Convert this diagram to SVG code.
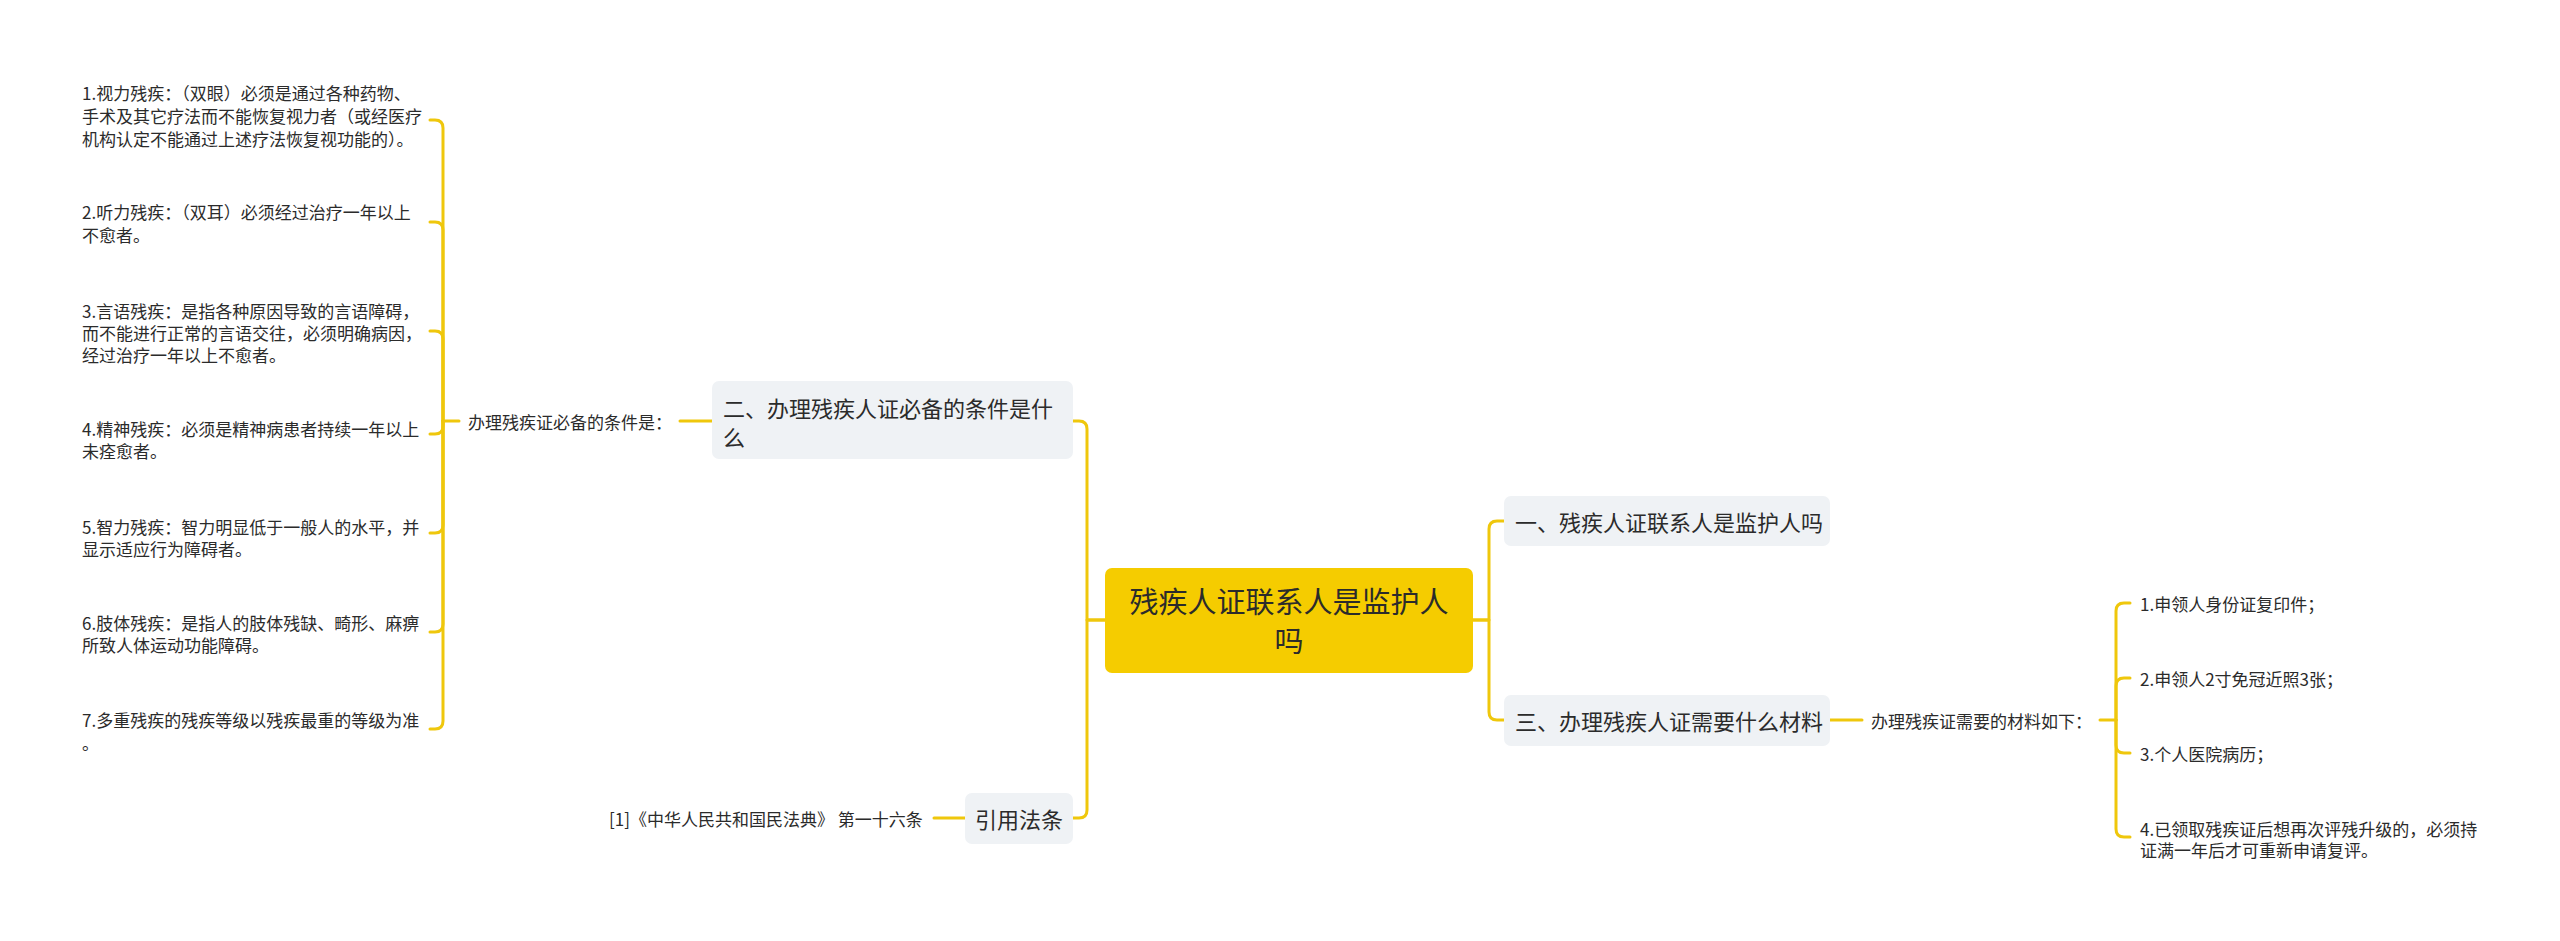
<svg xmlns="http://www.w3.org/2000/svg" width="2560" height="941" viewBox="0 0 2560 941">
<style>
text{font-family:"Noto Sans CJK SC","Noto Sans",sans-serif;fill:#2b2b2b;dominant-baseline:central}
.s{font-size:17px}
.m{font-size:22px}
.r{font-size:29px}
.box{fill:#eff2f5}
.root{fill:#f5cc00}
.c{fill:none;stroke:#efc70c;stroke-width:3;stroke-linecap:round;stroke-linejoin:round}
</style>
<rect width="2560" height="941" fill="#ffffff"/>
<g id="connectors">
<path class="c" d="M1105,620 H1087 V429 Q1087,421 1079,421 H1073"/>
<path class="c" d="M1105,620 H1087 V810 Q1087,818 1079,818 H1073"/>
<path class="c" d="M1473,620 H1489 V529 Q1489,521 1497,521 H1504"/>
<path class="c" d="M1473,620 H1489 V712 Q1489,720 1497,720 H1504"/>
<path class="c" d="M680,421 H712"/>
<path class="c" d="M443,421 H459"/>
<path class="c" d="M443,421 V128 Q443,120 435,120 H430"/>
<path class="c" d="M443,421 V230 Q443,222 435,222 H430"/>
<path class="c" d="M443,421 V339 Q443,331 435,331 H430"/>
<path class="c" d="M443,421 V426 Q443,434 435,434 H430"/>
<path class="c" d="M443,421 V525 Q443,533 435,533 H430"/>
<path class="c" d="M443,421 V624 Q443,632 435,632 H430"/>
<path class="c" d="M443,421 V721 Q443,729 435,729 H430"/>
<path class="c" d="M934,818 H965"/>
<path class="c" d="M1830,720 H1862"/>
<path class="c" d="M2100,720 H2116"/>
<path class="c" d="M2116,720 V611 Q2116,603 2124,603 H2130"/>
<path class="c" d="M2116,720 V686 Q2116,678 2124,678 H2130"/>
<path class="c" d="M2116,720 V745 Q2116,753 2124,753 H2130"/>
<path class="c" d="M2116,720 V829 Q2116,837 2124,837 H2130"/>
</g>
<g id="root">
<rect class="root" x="1105" y="568" width="368" height="105" rx="7"/>
<text class="r" x="1289" y="600" text-anchor="middle">残疾人证联系人是监护人</text>
<text class="r" x="1289" y="639" text-anchor="middle">吗</text>
</g>
<g id="n2">
<rect class="box" x="712" y="381" width="361" height="78" rx="7"/>
<text class="m" x="723" y="407">二、办理残疾人证必备的条件是什</text>
<text class="m" x="723" y="436">么</text>
</g>
<g id="n2a">
<text class="s" x="468" y="421">办理残疾证必备的条件是：</text>
</g>
<g id="i1">
<text class="s" x="82" y="92">1.视力残疾：（双眼）必须是通过各种药物、</text>
<text class="s" x="82" y="115">手术及其它疗法而不能恢复视力者（或经医疗</text>
<text class="s" x="82" y="138">机构认定不能通过上述疗法恢复视功能的）。</text>
</g>
<g id="i2">
<text class="s" x="82" y="211">2.听力残疾：（双耳）必须经过治疗一年以上</text>
<text class="s" x="82" y="234">不愈者。</text>
</g>
<g id="i3">
<text class="s" x="82" y="310">3.言语残疾：是指各种原因导致的言语障碍，</text>
<text class="s" x="82" y="332">而不能进行正常的言语交往，必须明确病因，</text>
<text class="s" x="82" y="354">经过治疗一年以上不愈者。</text>
</g>
<g id="i4">
<text class="s" x="82" y="428">4.精神残疾：必须是精神病患者持续一年以上</text>
<text class="s" x="82" y="450">未痊愈者。</text>
</g>
<g id="i5">
<text class="s" x="82" y="526">5.智力残疾：智力明显低于一般人的水平，并</text>
<text class="s" x="82" y="548">显示适应行为障碍者。</text>
</g>
<g id="i6">
<text class="s" x="82" y="622">6.肢体残疾：是指人的肢体残缺、畸形、麻痹</text>
<text class="s" x="82" y="644">所致人体运动功能障碍。</text>
</g>
<g id="i7">
<text class="s" x="82" y="719">7.多重残疾的残疾等级以残疾最重的等级为准</text>
<text class="s" x="82" y="742">。</text>
</g>
<g id="law">
<rect class="box" x="965" y="793" width="108" height="51" rx="7"/>
<text class="m" x="1019" y="818" text-anchor="middle">引用法条</text>
</g>
<g id="lawref">
<text class="s" x="609" y="818">[1]《中华人民共和国民法典》 第一十六条</text>
</g>
<g id="n1">
<rect class="box" x="1504" y="496" width="326" height="50" rx="7"/>
<text class="m" x="1515" y="521">一、残疾人证联系人是监护人吗</text>
</g>
<g id="n3">
<rect class="box" x="1504" y="695" width="326" height="51" rx="7"/>
<text class="m" x="1515" y="720">三、办理残疾人证需要什么材料</text>
</g>
<g id="n3a">
<text class="s" x="1871" y="720">办理残疾证需要的材料如下：</text>
</g>
<g id="r1"><text class="s" x="2140" y="603">1.申领人身份证复印件；</text></g>
<g id="r2"><text class="s" x="2140" y="678">2.申领人2寸免冠近照3张；</text></g>
<g id="r3"><text class="s" x="2140" y="753">3.个人医院病历；</text></g>
<g id="r4">
<text class="s" x="2140" y="828">4.已领取残疾证后想再次评残升级的，必须持</text>
<text class="s" x="2140" y="849">证满一年后才可重新申请复评。</text>
</g>
</svg>
